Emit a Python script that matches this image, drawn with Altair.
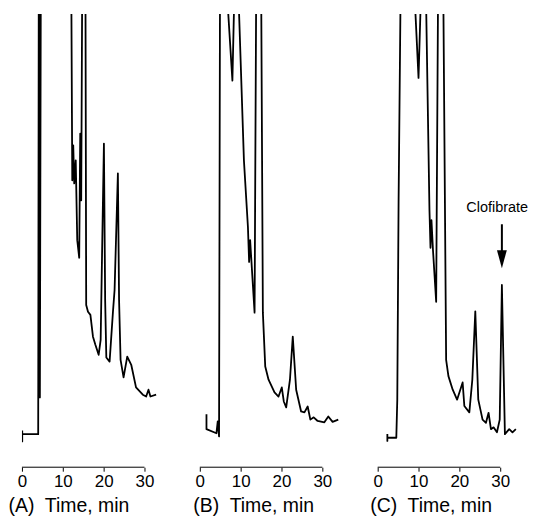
import altair as alt
import pandas as pd

# ---- data (time in min, detector signal in arbitrary units; 130 = off-scale) ----
a_time = [0.07, 0.07, 0.07, 3.98, 4.15, 4.39, 4.68, 11.95, 12.32, 12.56, 12.80, 13.17, 13.54, 14.02, 14.27,
          14.51, 14.88, 15.49, 15.73, 16.17, 16.76, 17.39, 17.98, 18.78, 19.27, 19.63, 20.07, 20.37, 20.66,
          21.46, 22.27, 22.68, 23.49, 23.78, 24.15, 24.88, 25.78, 26.76, 27.93, 29.59, 30.41, 30.98, 31.46, 32.85]
a_signal = [8.1, 5.7, 7.3, 7.3, 130, 15.4, 130, 130, 63.3, 71.0, 62.6, 67.7, 50.1, 46.2, 73.6,
            58.9, 130, 130, 35.8, 34.3, 33.6, 28.8, 27.0, 24.8, 28.1, 47.9, 71.4, 36.9, 24.2,
            23.3, 34.1, 39.1, 64.8, 36.9, 23.7, 19.8, 24.4, 22.6, 17.6, 16.0, 15.6, 17.1, 15.6, 16.0]

b_time = [1.63, 1.63, 4.07, 4.39, 4.71, 5.00, 6.50, 6.90, 7.98, 8.37, 9.20, 9.58, 10.80, 11.78, 12.07,
          12.32, 13.41, 13.78, 14.15, 14.76, 15.05, 15.44, 16.02, 16.83, 18.29, 19.27, 20.07, 20.56, 21.15,
          22.07, 22.76, 23.59, 24.80, 25.61, 26.41, 27.07, 27.88, 28.85, 30.49, 31.46, 32.51, 33.90]
b_signal = [11.7, 8.4, 7.5, 10.1, 6.8, 130, 130, 101, 85.3, 101, 130, 101, 67.7, 53.0, 45.3,
            50.1, 34.1, 101, 130, 130, 101, 34.1, 22.2, 19.3, 16.5, 15.6, 17.6, 14.5, 13.2,
            19.3, 28.8, 17.1, 12.3, 12.1, 13.4, 10.5, 11.0, 10.2, 9.9, 11.2, 10.0, 10.5]

c_time = [2.37, 2.37, 2.37, 4.56, 4.80, 5.12, 5.56, 5.73, 8.90, 9.20, 10.00, 10.49, 11.22, 11.88, 12.68,
          12.93, 13.17, 13.54, 14.32, 14.76, 15.12, 15.85, 16.10, 16.76, 17.32, 18.37, 19.44, 20.80, 21.22,
          22.44, 23.17, 23.90, 24.63, 25.68, 26.51, 27.15, 27.73, 28.37, 29.20, 29.88, 30.41, 31.15, 32.20,
          33.00, 33.83]
c_signal = [7.3, 5.8, 6.5, 6.5, 14.9, 58.9, 100, 130, 130, 101, 85.9, 101, 130, 101, 56.7,
            48.4, 54.5, 47.9, 36.5, 101, 130, 130, 101, 23.7, 20.1, 17.1, 14.9, 18.7, 13.5,
            12.1, 19.3, 34.4, 14.9, 10.5, 9.8, 12.0, 8.4, 8.8, 7.7, 10.5, 40.2, 7.3, 8.4,
            7.7, 8.4]

panel_titles = ["(A)\u00a0 Time, min", "(B)\u00a0 Time, min", "(C)\u00a0 Time, min"]
title_offsets = [-14, -7, -8]
tick_values = [0, 10, 20, 30]
axis_span = [0, 30]

peak_label = "Clofibrate"
peak_label_time = 21.7
peak_label_signal = 56.3
arrow_time = 30.41
arrow_top = 53.6
arrow_bottom = 47.5
arrow_head = 45.9

X_DOMAIN = [0, 34.5]
Y_DOMAIN = [0, 100]
W = 141.45
H = 455
FONT = "Liberation Sans"


def panel(times, signals, title, title_x, annotate=False):
    df = pd.DataFrame({"t": times, "s": signals, "i": list(range(len(times)))})
    xs = alt.Scale(domain=X_DOMAIN, nice=False, zero=False)
    ys = alt.Scale(domain=Y_DOMAIN, nice=False, zero=False)
    xaxis = alt.Axis(values=tick_values, domain=False, grid=False, labelFlush=False, title=title,
                     titleX=title_x, titleY=44, titleAlign="left", titleBaseline="alphabetic")
    line = alt.Chart(df).mark_line(color="black", strokeWidth=1.8, clip=True, strokeJoin="round").encode(
        x=alt.X("t:Q", scale=xs, axis=xaxis),
        y=alt.Y("s:Q", scale=ys, axis=None),
        order=alt.Order("i:Q"),
    )
    axis_df = pd.DataFrame({"t": [axis_span[0]], "t2": [axis_span[1]]})
    axis_line = alt.Chart(axis_df).mark_rule(color="black", strokeWidth=1).encode(
        x=alt.X("t:Q", scale=xs, axis=xaxis), x2="t2:Q", y=alt.value(H)
    )
    layers = [line, axis_line]
    if annotate:
        lab_df = pd.DataFrame({"t": [peak_label_time], "s": [peak_label_signal], "txt": [peak_label]})
        txt = alt.Chart(lab_df).mark_text(align="left", baseline="alphabetic", fontSize=14.5, font=FONT,
                                          color="black").encode(
            x=alt.X("t:Q", scale=xs, axis=xaxis), y=alt.Y("s:Q", scale=ys, axis=None), text="txt:N")
        arr_df = pd.DataFrame({"t": [arrow_time], "s": [arrow_top], "bot": [arrow_bottom], "head": [arrow_head]})
        stem = alt.Chart(arr_df).mark_rule(color="black", strokeWidth=2).encode(
            x=alt.X("t:Q", scale=xs, axis=xaxis), y=alt.Y("s:Q", scale=ys, axis=None), y2="bot:Q")
        head = alt.Chart(arr_df).mark_point(shape="M -0.55 -1 L 0.55 -1 L 0 1 Z", filled=True, size=324,
                                            color="black", opacity=1).encode(
            x=alt.X("t:Q", scale=xs, axis=xaxis), y=alt.Y("head:Q", scale=ys, axis=None))
        layers += [txt, stem, head]
    return alt.layer(*layers).properties(width=W, height=H)


chart = alt.hconcat(
    panel(a_time, a_signal, panel_titles[0], title_offsets[0]),
    panel(b_time, b_signal, panel_titles[1], title_offsets[1]),
    panel(c_time, c_signal, panel_titles[2], title_offsets[2], annotate=True),
    spacing=36.55,
    bounds="flush",
).properties(
    padding={"left": 0, "top": 5, "right": 0, "bottom": 0}
).configure_view(stroke=None).configure_axis(
    labelFont=FONT, titleFont=FONT, labelFontSize=17, titleFontSize=19.5, titleFontWeight="normal",
    labelColor="black", titleColor="black", tickColor="black", tickSize=4, tickWidth=1,
)

chart.save("out.html", embed_options={"renderer": "svg", "actions": False})
